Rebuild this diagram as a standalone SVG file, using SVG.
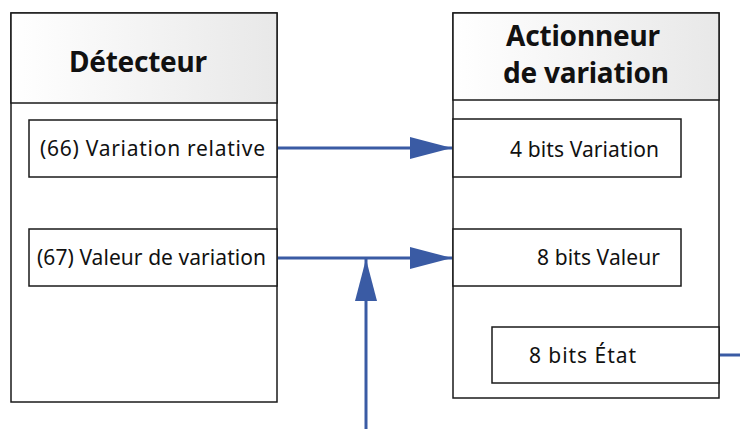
<svg xmlns="http://www.w3.org/2000/svg" width="740" height="429" viewBox="0 0 740 429">
<defs>
<linearGradient id="hdr" x1="0" y1="0" x2="1" y2="0">
<stop offset="0" stop-color="#ffffff"/>
<stop offset="1" stop-color="#e8e8e8"/>
</linearGradient>
<marker id="ah" viewBox="0 0 42 22" refX="42" refY="11" markerWidth="42" markerHeight="22" markerUnits="userSpaceOnUse" orient="auto">
<path d="M0,0 L42,11 L0,22 Z" fill="#3A5BA4"/>
</marker>
<style>
.box{fill:#fff;stroke:#1a1a1a;stroke-width:1.5}
.hdr{fill:url(#hdr);stroke:#1a1a1a;stroke-width:1.5}
.title{font-family:"Noto Sans","Liberation Sans",sans-serif;font-weight:bold;font-size:28px;fill:#111;text-anchor:middle}
.lbl{font-family:"Noto Sans","Liberation Sans",sans-serif;font-size:21px;fill:#111}
.conn{stroke:#3A5BA4;stroke-width:3;fill:none}
</style>
</defs>
<g id="detecteur">
<rect class="box" x="11" y="13" width="266" height="389"/>
<rect class="hdr" x="11" y="13" width="266" height="90"/>
<text class="title" x="138" y="72" textLength="138">Détecteur</text>
</g>
<g id="variation-relative">
<rect class="box" x="29" y="120" width="248" height="57"/>
<text class="lbl" x="40" y="156" textLength="225">(66) Variation relative</text>
</g>
<g id="valeur-de-variation">
<rect class="box" x="29" y="229" width="248" height="57"/>
<text class="lbl" x="37" y="265" textLength="229">(67) Valeur de variation</text>
</g>
<g id="actionneur">
<rect class="box" x="453" y="13" width="266" height="385"/>
<rect class="hdr" x="453" y="13" width="266" height="87"/>
<text class="title" x="583" y="46" textLength="154">Actionneur</text>
<text class="title" x="586" y="83" textLength="166">de variation</text>
</g>
<g id="bits-variation">
<rect class="box" x="453" y="119" width="228" height="58"/>
<text class="lbl" x="510" y="157" textLength="149">4 bits Variation</text>
</g>
<g id="bits-valeur">
<rect class="box" x="453" y="229" width="228" height="57"/>
<text class="lbl" x="537" y="265" textLength="123">8 bits Valeur</text>
</g>
<g id="bits-etat">
<rect class="box" x="492" y="327" width="227" height="56"/>
<text class="lbl" x="529" y="363" textLength="107">8 bits État</text>
</g>
<g id="connectors">
<line class="conn" x1="278" y1="148" x2="452" y2="148" marker-end="url(#ah)"/>
<line class="conn" x1="278" y1="258" x2="452" y2="258" marker-end="url(#ah)"/>
<line class="conn" x1="366" y1="429" x2="366" y2="259" marker-end="url(#ah)"/>
<line class="conn" x1="720" y1="355" x2="740" y2="355"/>
</g>
</svg>
